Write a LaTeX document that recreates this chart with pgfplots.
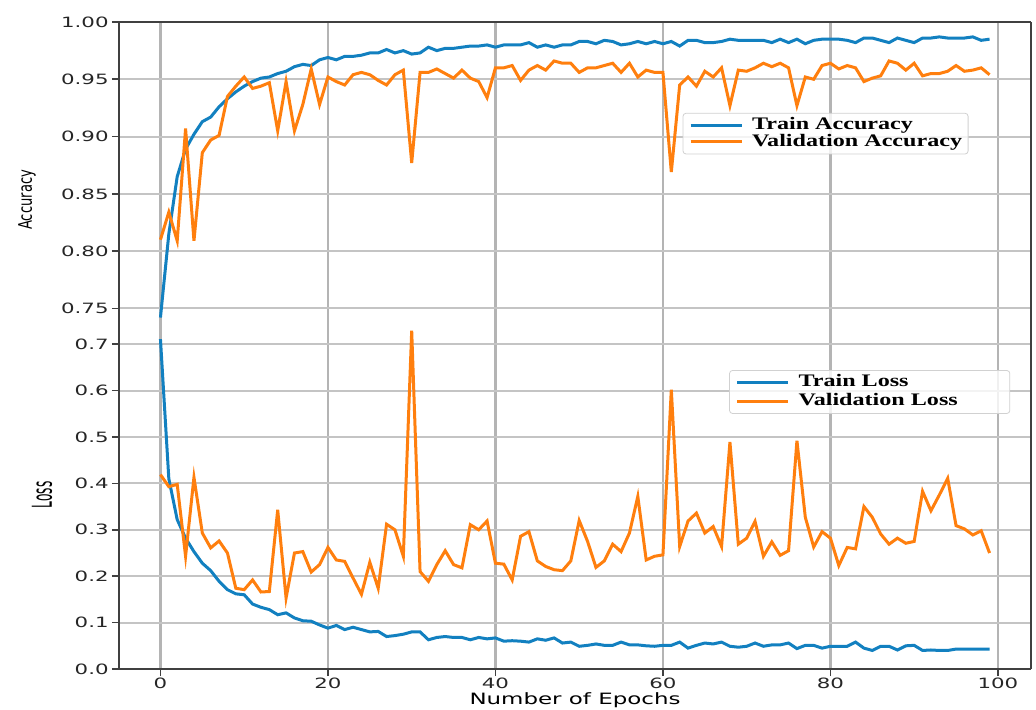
\documentclass[border=0pt]{standalone}
\usepackage{fontspec}
\usepackage{graphicx}
\usepackage{pgfplots}
\usepackage{pgfplotstable}
\pgfplotsset{compat=1.18}
\setmainfont{DejaVu Sans}[FakeStretch=1.5]
\newfontfamily\labfont{DejaVu Sans}[FakeStretch=1.47]
\newfontfamily\rotfont{DejaVu Sans}
\newfontfamily\legfont{Liberation Serif}[FakeStretch=1.37]
\definecolor{mblue}{RGB}{18,128,192}
\definecolor{morange}{RGB}{255,127,14}
\definecolor{gridcx}{RGB}{180,180,180}
\definecolor{gridcy}{RGB}{196,196,196}

\pgfplotstableread{
ep ta va
0 0.742 0.810
1 0.815 0.834
2 0.865 0.809
3 0.889 0.907
4 0.902 0.809
5 0.913 0.886
6 0.917 0.897
7 0.926 0.901
8 0.933 0.935
9 0.939 0.944
10 0.944 0.952
11 0.948 0.942
12 0.951 0.944
13 0.952 0.947
14 0.955 0.905
15 0.957 0.948
16 0.961 0.905
17 0.963 0.928
18 0.962 0.959
19 0.967 0.928
20 0.969 0.952
21 0.967 0.948
22 0.970 0.945
23 0.970 0.954
24 0.971 0.956
25 0.973 0.954
26 0.973 0.949
27 0.976 0.945
28 0.973 0.954
29 0.975 0.958
30 0.972 0.877
31 0.973 0.956
32 0.978 0.956
33 0.975 0.959
34 0.977 0.955
35 0.977 0.951
36 0.978 0.958
37 0.979 0.951
38 0.979 0.948
39 0.980 0.934
40 0.978 0.960
41 0.980 0.960
42 0.980 0.962
43 0.980 0.949
44 0.982 0.958
45 0.978 0.962
46 0.980 0.958
47 0.978 0.966
48 0.980 0.964
49 0.980 0.964
50 0.983 0.956
51 0.983 0.960
52 0.981 0.960
53 0.984 0.962
54 0.983 0.964
55 0.980 0.956
56 0.981 0.964
57 0.983 0.952
58 0.981 0.958
59 0.983 0.956
60 0.981 0.956
61 0.983 0.869
62 0.979 0.945
63 0.984 0.952
64 0.984 0.944
65 0.982 0.957
66 0.982 0.952
67 0.983 0.960
68 0.985 0.927
69 0.984 0.958
70 0.984 0.957
71 0.984 0.960
72 0.984 0.964
73 0.982 0.961
74 0.985 0.964
75 0.982 0.960
76 0.985 0.927
77 0.981 0.952
78 0.984 0.950
79 0.985 0.962
80 0.985 0.964
81 0.985 0.959
82 0.984 0.962
83 0.982 0.960
84 0.986 0.948
85 0.986 0.951
86 0.984 0.953
87 0.982 0.966
88 0.986 0.964
89 0.984 0.958
90 0.982 0.964
91 0.986 0.953
92 0.986 0.955
93 0.987 0.955
94 0.986 0.957
95 0.986 0.962
96 0.986 0.957
97 0.987 0.958
98 0.984 0.960
99 0.985 0.954
}\acctable

\pgfplotstableread{
ep tl vl
0 0.711 0.419
1 0.410 0.393
2 0.322 0.398
3 0.282 0.243
4 0.253 0.413
5 0.228 0.293
6 0.212 0.261
7 0.189 0.276
8 0.171 0.250
9 0.162 0.174
10 0.160 0.171
11 0.140 0.192
12 0.133 0.166
13 0.128 0.167
14 0.117 0.343
15 0.121 0.153
16 0.110 0.250
17 0.104 0.253
18 0.103 0.209
19 0.095 0.225
20 0.088 0.262
21 0.094 0.235
22 0.085 0.232
23 0.090 0.196
24 0.085 0.161
25 0.080 0.230
26 0.081 0.174
27 0.070 0.312
28 0.072 0.300
29 0.075 0.243
30 0.080 0.729
31 0.080 0.210
32 0.063 0.189
33 0.068 0.225
34 0.070 0.255
35 0.068 0.225
36 0.068 0.218
37 0.063 0.311
38 0.068 0.300
39 0.065 0.319
40 0.067 0.228
41 0.060 0.226
42 0.061 0.192
43 0.060 0.286
44 0.058 0.296
45 0.065 0.233
46 0.062 0.221
47 0.067 0.214
48 0.056 0.212
49 0.058 0.233
50 0.049 0.320
51 0.051 0.275
52 0.054 0.219
53 0.051 0.233
54 0.051 0.269
55 0.058 0.253
56 0.052 0.293
57 0.052 0.372
58 0.050 0.235
59 0.049 0.243
60 0.051 0.246
61 0.051 0.602
62 0.058 0.264
63 0.045 0.319
64 0.051 0.336
65 0.056 0.293
66 0.054 0.307
67 0.058 0.264
68 0.049 0.489
69 0.047 0.269
70 0.049 0.282
71 0.056 0.318
72 0.049 0.243
73 0.052 0.274
74 0.052 0.245
75 0.056 0.255
76 0.044 0.492
77 0.051 0.327
78 0.051 0.263
79 0.045 0.296
80 0.049 0.282
81 0.049 0.223
82 0.049 0.262
83 0.058 0.259
84 0.045 0.350
85 0.040 0.327
86 0.049 0.291
87 0.049 0.269
88 0.041 0.282
89 0.050 0.271
90 0.051 0.275
91 0.040 0.383
92 0.041 0.341
93 0.040 0.375
94 0.040 0.411
95 0.043 0.309
96 0.043 0.302
97 0.043 0.289
98 0.043 0.298
99 0.043 0.250
}\losstable

\pgfplotsset{
  common/.style={
    width=456pt, scale only axis,
    xmin=-4.95, xmax=103.95,
    xtick={0,20,40,60,80,100},
    grid=major,
    x grid style={gridcx, line width=1.3pt},
    y grid style={gridcy, line width=1pt},
    axis line style={black!75, line width=1pt},
    tick align=outside,
    major tick length=3.5pt,
    tick style={black!75, line width=0.8pt},
    ytick pos=left,
    /pgf/number format/assume math mode=true,
    tick label style={font=\fontsize{7.1}{8}\selectfont, color=black!85},
    yticklabel style={inner xsep=1.5pt},
    xticklabel style={inner sep=1pt},
    legend cell align=left,
    legend image code/.code={\draw[##1] (0pt,0pt) -- (25.5pt,0pt);},
    every axis plot/.append style={line width=1.5pt},
  },
  legst/.style={
    draw=black!18, rounded corners=1.5pt, fill=white, fill opacity=0.8, text opacity=1,
    inner xsep=3pt, inner ysep=2pt,
    font=\legfont\bfseries\fontsize{8.8}{9}\selectfont,
    nodes={inner sep=0pt, text height=6.2pt, text depth=1.8pt},
    column sep=4.5pt,
  },
}

\begin{document}
\begin{tikzpicture}
% bottom: loss
\begin{axis}[
  common,
  at={(0,0)}, anchor=south west,
  height=174pt,
  ymin=0, ymax=0.75,
  ytick={0,0.1,0.2,0.3,0.4,0.5,0.6,0.7},
  yticklabel style={/pgf/number format/.cd, fixed, fixed zerofill, precision=1},
  xticklabel style={/pgf/number format/.cd, fixed, precision=0},
  axis x line*=bottom, axis y line*=box,
  xtick pos=bottom,
  xlabel={\labfont\fontsize{7.8}{9}\selectfont Number of Epochs},
  xlabel style={at={(axis description cs:0.5,-0.1034)}, anchor=base, inner sep=0pt},
  ylabel={\scalebox{0.87}[1.96]{\rotfont\fontsize{7}{8}\selectfont Loss}},
  ylabel style={at={(axis description cs:-0.0735,0.5)}, anchor=base, inner sep=0pt},
  legend style={legst, at={(axis description cs:0.669,0.859)}, anchor=north west, row sep=1.5pt},
]
\addplot[mblue] table[x=ep, y=tl] {\losstable};
\addlegendentry{Train Loss}
\addplot[morange] table[x=ep, y=vl] {\losstable};
\addlegendentry{Validation Loss\hspace*{23pt}}
\end{axis}
% top: accuracy
\begin{axis}[
  common,
  at={(0,174pt)}, anchor=south west,
  height=149.5pt,
  ymin=0.739, ymax=1.0,
  ytick={0.75,0.8,0.85,0.9,0.95,1.0},
  yticklabel style={/pgf/number format/.cd, fixed, fixed zerofill, precision=2},
  xticklabels={},
  axis x line*=top, axis y line*=box,
  xtick style={draw=none},
  ylabel={\scalebox{1}[1.43]{\rotfont\fontsize{6.55}{7}\selectfont Accuracy}},
  ylabel style={at={(axis description cs:-0.0954,0.405)}, anchor=base, inner sep=0pt},
  legend style={legst, at={(axis description cs:0.618,0.696)}, anchor=north west, row sep=0.35pt},
]
\addplot[mblue] table[x=ep, y=ta] {\acctable};
\addlegendentry{Train Accuracy}
\addplot[morange] table[x=ep, y=va] {\acctable};
\addlegendentry{Validation Accuracy}
\end{axis}
\pgfresetboundingbox
\path[use as bounding box] (-59.5pt,-20pt) rectangle (458.5pt,334.5pt);
\end{tikzpicture}
\end{document}
